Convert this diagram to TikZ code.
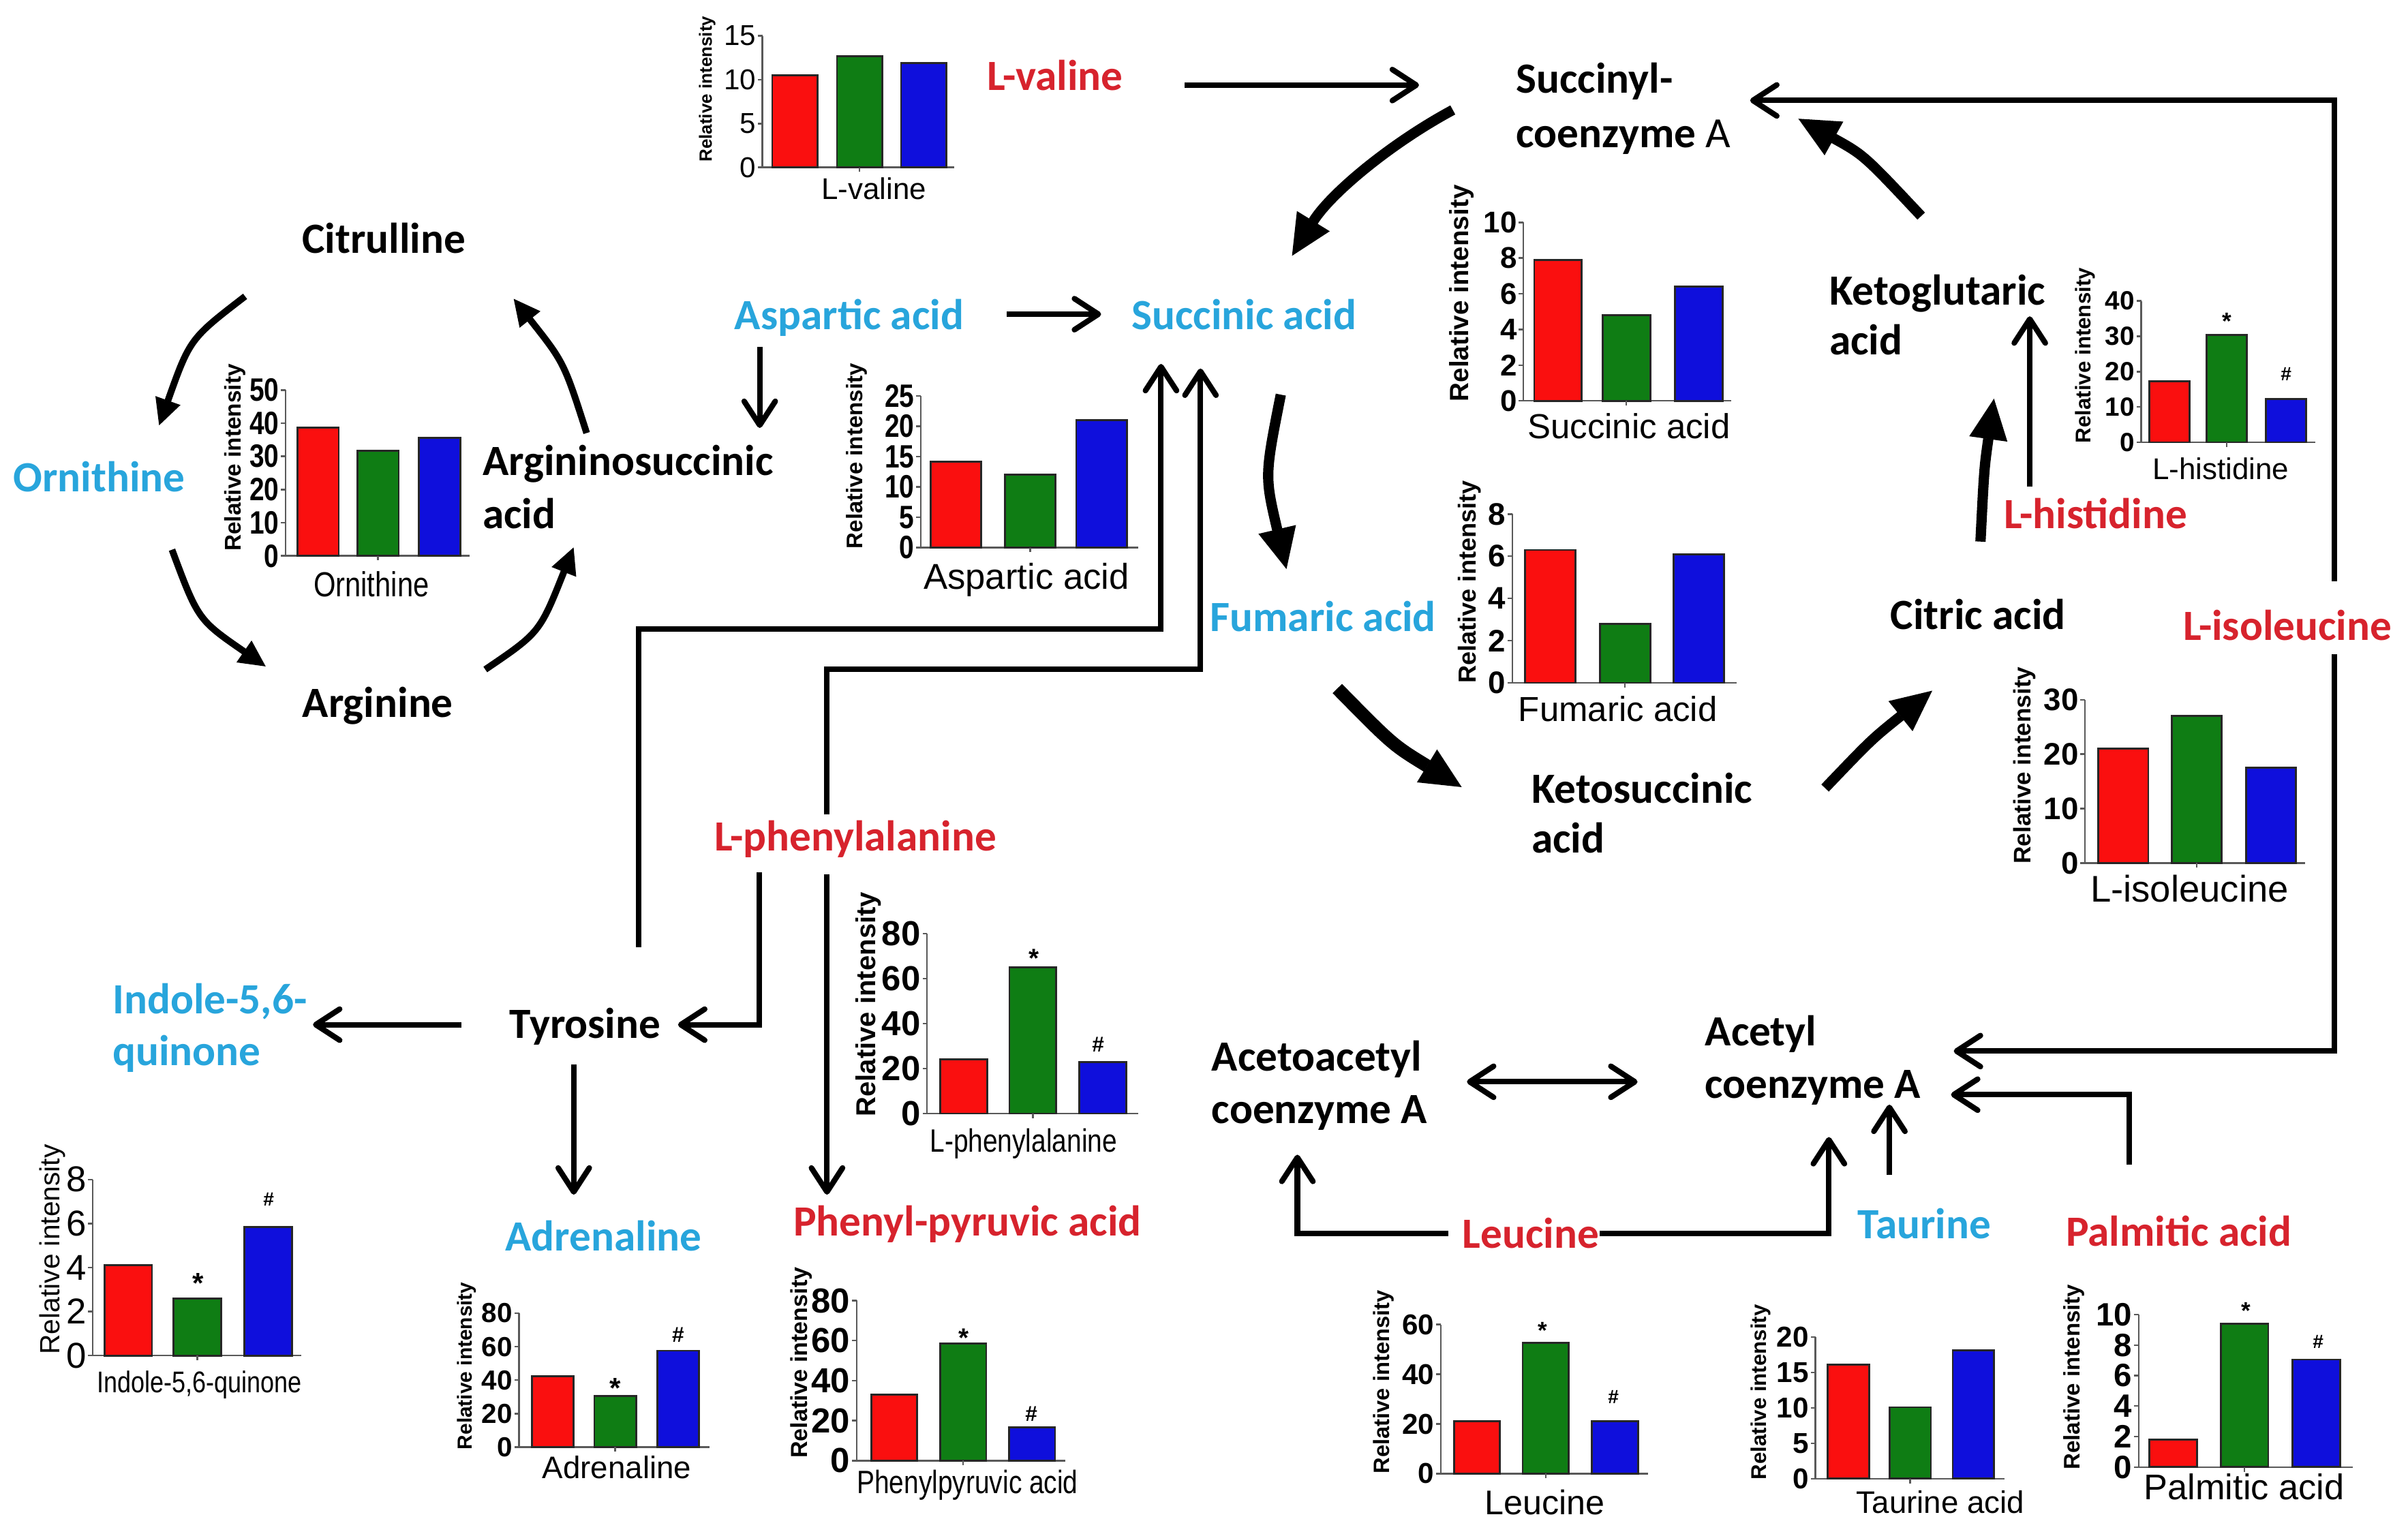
\documentclass[tikz,border=0pt]{standalone}
\usepackage{fontspec}
\setmainfont{Carlito}
\newfontfamily\arial{Liberation Sans}
\newfontfamily\arialn[FakeStretch=0.82]{Liberation Sans}
\usetikzlibrary{arrows.meta}
\definecolor{labcyan}{RGB}{40,165,220}
\definecolor{labred}{RGB}{215,35,45}
\definecolor{barred}{RGB}{250,15,15}
\definecolor{bargreen}{RGB}{15,125,20}
\definecolor{barblue}{RGB}{15,15,220}
\newcommand\AF[1]{\arial\fontsize{#1}{#1}\selectfont}
\newcommand\AFB[1]{\arial\bfseries\fontsize{#1}{#1}\selectfont}
\newcommand\AFN[1]{\arialn\fontsize{#1}{#1}\selectfont}
\newcommand\AFNB[1]{\arialn\bfseries\fontsize{#1}{#1}\selectfont}
% #1 name, #2 axis x, #3 baseline y, #4 px per unit, #5 top value, #6 ticks, #7 end x, #8 font
\newcommand\chartaxis[8]{%
  \draw[axisln] (#2,{#3-#4*#5}) -- (#2,#3) -- (#7,#3);
  \foreach \tk in {#6}{%
    \draw[axisln] (#2,{#3-#4*\tk}) -- ++(-3,0);
    \node[anchor=east, inner sep=0pt, font={#8}] (#1t\tk) at ({#2-4},{#3-#4*\tk}) {\tk};}%
}
% #1 baseline y, #2 px per unit, #3 width, #4 list left/value/colour, #5 mid tick x
\newcommand\threebars[5]{%
  \foreach \bl/\bv/\bc in {#4}{%
    \draw[barln, fill=\bc] (\bl,#1) rectangle ({\bl+#3},{#1-#2*\bv});}%
  \draw[axisln] (#5,#1) -- ++(0,3);
}
\tikzset{
  lab/.style={font=\bfseries\fontsize{18}{22}\selectfont, inner sep=0pt, anchor=base},
  labw/.style={lab, anchor=base west},
  cyanlab/.style={lab, text=labcyan},
  cyanlabw/.style={labw, text=labcyan},
  redlab/.style={lab, text=labred},
  rel/.style={rotate=90, inner sep=0pt, anchor=center},
  xl/.style={inner sep=0pt, anchor=base},
  mk/.style={inner sep=0pt, anchor=center},
  axisln/.style={line width=0.7pt, draw=black!65},
  barln/.style={line width=0.8pt, draw=black!85},
  thinln/.style={line width=2.3pt},
  thinarrow/.style={thinln, -{Straight Barb[length=10pt,width=13pt,round]}},
  thinboth/.style={thinln, {Straight Barb[length=10pt,width=13pt,round]}-{Straight Barb[length=10pt,width=13pt,round]}},
  tca/.style={line width=4.3pt, -{Triangle[length=17pt,width=16pt,line width=0.4pt]}},
  orn/.style={line width=2.8pt, -{Triangle[length=11pt,width=11pt,line width=0.4pt]}},
}
\begin{document}
\begin{tikzpicture}[x=0.022532cm,y=-0.022532cm]
\fill[white] (0,0) rectangle (1568,998.6);
\useasboundingbox (0,0) rectangle (1568,998.6);

% ---------- metabolite labels ----------
\node[redlab] (valine) at (687,59) {L-valine};
\node[labw] (succoa1) at (987,60.4) {Succinyl-};
\node[labw] (succoa2) at (987,96) {coenzyme {\mdseries A}};
\node[lab] (citrulline) at (250,165) {Citrulline};
\node[cyanlab] (ornithine) at (64.5,320) {Ornithine};
\node[labw] (argsuc1) at (314,309.5) {Argininosuccinic};
\node[labw] (argsuc2) at (314,344) {acid};
\node[lab] (arginine) at (246,467) {Arginine};
\node[cyanlab] (aspartic) at (553,214.5) {Aspartic acid};
\node[cyanlab] (succinic) at (810,214.5) {Succinic acid};
\node[cyanlab] (fumaric) at (861.5,411) {Fumaric acid};
\node[labw] (ketosuc1) at (997,523) {Ketosuccinic};
\node[labw] (ketosuc2) at (997,555.5) {acid};
\node[lab] (citric) at (1288,410) {Citric acid};
\node[labw] (ketoglu1) at (1191,198.4) {Ketoglutaric};
\node[labw] (ketoglu2) at (1191,231) {acid};
\node[redlab] (histidine) at (1364.6,344) {L-histidine};
\node[redlab] (isoleucine) at (1489.5,417) {L-isoleucine};
\node[redlab] (phenylalanine) at (557,554) {L-phenylalanine};
\node[lab] (tyrosine) at (381,676) {Tyrosine};
\node[cyanlabw] (indole1) at (73,660) {Indole-5,6-};
\node[cyanlabw] (indole2) at (73,694) {quinone};
\node[cyanlab] (adrenaline) at (393,814.7) {Adrenaline};
\node[redlab] (phenylpyr) at (630,805) {Phenyl-pyruvic acid};
\node[labw] (acetoac1) at (788.7,697.4) {Acetoacetyl};
\node[labw] (acetoac2) at (788.7,731.6) {coenzyme A};
\node[labw] (acetyl1) at (1110,681.2) {Acetyl};
\node[labw] (acetyl2) at (1110,715.4) {coenzyme A};
\node[redlab] (leucine) at (996.8,813) {Leucine};
\node[cyanlab] (taurine) at (1253,806.5) {Taurine};
\node[redlab] (palmitic) at (1418.8,811.4) {Palmitic acid};

% ---------- connector end points ----------
\coordinate (a1s) at (771.4,55.4);   \coordinate (a1e) at (924,55.4);
\coordinate (a2s) at (655.5,204.6);  \coordinate (a2e) at (717,204.6);
\coordinate (a3s) at (494.7,225.8);  \coordinate (a3e) at (494.7,278.7);
\coordinate (a4s) at (1321.7,317);   \coordinate (a4e) at (1321.7,206);
\coordinate (a5s) at (1520,378.5);   \coordinate (a5c) at (1520,65.4);   \coordinate (a5e) at (1139.6,65.4);
\coordinate (a6s) at (1520,426);     \coordinate (a6c) at (1520,684.5);  \coordinate (a6e) at (1272.2,684.5);
\coordinate (a7s) at (1386.6,758.4); \coordinate (a7c) at (1386.6,712.9); \coordinate (a7e) at (1270.4,712.9);
\coordinate (a8s) at (1230.3,765);   \coordinate (a8e) at (1230.3,719.4);
\coordinate (a9s) at (1041.8,803.4); \coordinate (a9c) at (1190.9,803.4); \coordinate (a9e) at (1190.9,740.5);
\coordinate (a10s) at (943,803.4);   \coordinate (a10c) at (844.8,803.4); \coordinate (a10e) at (844.8,752);
\coordinate (a11s) at (955.2,704.5); \coordinate (a11e) at (1066.3,704.5);
\coordinate (a12s) at (300.5,667.3); \coordinate (a12e) at (203.8,667.3);
\coordinate (a13s) at (494.3,568);   \coordinate (a13c) at (494.3,667.3); \coordinate (a13e) at (441.5,667.3);
\coordinate (a14s) at (373.6,693.3); \coordinate (a14e) at (373.6,778);
\coordinate (a15s) at (538.5,569.6); \coordinate (a15e) at (538.5,778);
\coordinate (a16s) at (416,616.8);   \coordinate (a16c) at (416,409.5);  \coordinate (a16d) at (756,409.5); \coordinate (a16e) at (756,237);
\coordinate (a17s) at (538.5,530.5); \coordinate (a17c) at (538.5,436);  \coordinate (a17d) at (781.7,436); \coordinate (a17e) at (781.7,240);

% ---------- thin connectors ----------
\draw[thinarrow] (a1s) -- (a1e);
\draw[thinarrow] (a2s) -- (a2e);
\draw[thinarrow] (a3s) -- (a3e);
\draw[thinarrow] (a4s) -- (a4e);
\draw[thinarrow] (a5s) -- (a5c) -- (a5e);
\draw[thinarrow] (a6s) -- (a6c) -- (a6e);
\draw[thinarrow] (a7s) -- (a7c) -- (a7e);
\draw[thinarrow] (a8s) -- (a8e);
\draw[thinarrow] (a9s) -- (a9c) -- (a9e);
\draw[thinarrow] (a10s) -- (a10c) -- (a10e);
\draw[thinboth] (a11s) -- (a11e);
\draw[thinarrow] (a12s) -- (a12e);
\draw[thinarrow] (a13s) -- (a13c) -- (a13e);
\draw[thinarrow] (a14s) -- (a14e);
\draw[thinarrow] (a15s) -- (a15e);
\draw[thinarrow] (a16s) -- (a16c) -- (a16d) -- (a16e);
\draw[thinarrow] (a17s) -- (a17c) -- (a17d) -- (a17e);

% ---------- TCA cycle arrows ----------
\coordinate (b1s) at (946,71.6);    \coordinate (b1e) at (841.3,166.6);
\coordinate (b2s) at (834,257);     \coordinate (b2e) at (837.7,370.6);
\coordinate (b3s) at (870.8,448.4); \coordinate (b3e) at (951.8,512.6);
\coordinate (b4s) at (1188.4,513.2); \coordinate (b4e) at (1258.2,449.8);
\coordinate (b5s) at (1289.6,352.7); \coordinate (b5e) at (1298.4,259.6);
\coordinate (b6s) at (1251,140.7);  \coordinate (b6e) at (1171,77.3);
\draw[tca] (b1s) .. controls (904.6,93.9) and (865.9,126.6) .. (b1e);
\draw[tca] (b2s) .. controls (823.5,310) .. (b2e);
\draw[tca, line width=5.5pt] (b3s) .. controls (907,485.2) .. (b3e);
\draw[tca] (b4s) .. controls (1218.7,481.5) .. (b4e);
\draw[tca] (b5s) .. controls (1292,305) .. (b5e);
\draw[tca] (b6s) .. controls (1213.7,101) .. (b6e);

% ---------- urea cycle arrows ----------
\coordinate (c1s) at (159.6,193); \coordinate (c1e) at (103.6,277);
\coordinate (c2s) at (112,358);   \coordinate (c2e) at (173,434);
\coordinate (c3s) at (316,436);   \coordinate (c3e) at (373.5,356.5);
\coordinate (c4s) at (382,282);   \coordinate (c4e) at (334.5,194.6);
\draw[orn] (c1s) .. controls (123.7,220.6) .. (c1e);
\draw[orn] (c2s) .. controls (129,403.6) .. (c2e);
\draw[orn] (c3s) .. controls (351.5,411.9) .. (c3e);
\draw[orn] (c4s) .. controls (367.3,236.1) .. (c4e);

% ---------- charts ----------
% L-valine
\chartaxis{cv}{496.5}{109}{5.71}{15}{0,5,10,15}{621.3}{\AF{12}}
\threebars{109}{5.71}{29.4}{502.8/10.5/barred,545/12.7/bargreen,586.7/11.9/barblue}{559.7}
\node[rel, font=\AFB{7.4}] (cvr) at (460.5,58) {Relative intensity};
\node[xl, font=\AF{12.5}] (cvx) at (569,130) {L-valine};

% Ornithine
\chartaxis{co}{186}{362}{2.16}{50}{0,10,...,50}{305.6}{\AFNB{13.5}}
\threebars{362}{2.16}{27}{193.6/38.6/barred,232.6/31.7/bargreen,272.7/35.6/barblue}{246}
\node[rel, font=\AFB{9.5}] (cor) at (153,298) {Relative intensity};
\node[xl, font=\AFN{14.5}] (cox) at (241.8,388.4) {Ornithine};

% Aspartic acid
\chartaxis{ca}{599.6}{356.6}{3.95}{25}{0,5,...,25}{741.2}{\AFNB{13.5}}
\threebars{356.6}{3.95}{33}{606/14.2/barred,654.4/12/bargreen,700.8/21/barblue}{670.9}
\node[rel, font=\AFB{9.4}] (car) at (558,297) {Relative intensity};
\node[xl, font=\AF{15}] (cax) at (668.4,383.6) {Aspartic acid};

% Succinic acid
\chartaxis{cs}{992}{261}{11.62}{10}{0,2,...,10}{1127.3}{\AFB{12.5}}
\threebars{261}{11.62}{31}{999/7.9/barred,1043.6/4.8/bargreen,1090.7/6.4/barblue}{1059}
\node[rel, font=\AFB{11}] (csr) at (951.7,191) {Relative intensity};
\node[xl, font=\AF{14.5}] (csx) at (1060.7,285.5) {Succinic acid};

% Fumaric acid
\chartaxis{cf}{984.8}{444.7}{13.74}{8}{0,2,...,8}{1130.8}{\AFB{13}}
\threebars{444.7}{13.74}{33}{993/6.3/barred,1041.8/2.8/bargreen,1089.7/6.1/barblue}{1058}
\node[rel, font=\AFB{10.3}] (cfr) at (957,379) {Relative intensity};
\node[xl, font=\AF{14.5}] (cfx) at (1053.5,469.8) {Fumaric acid};

% L-histidine
\chartaxis{ch}{1394.3}{288}{2.3}{40}{0,10,...,40}{1507.8}{\AFB{11}}
\threebars{288}{2.3}{26}{1399.6/17.2/barred,1437/30.4/bargreen,1475.6/12.3/barblue}{1450}
\node[rel, font=\AFB{8.9}] (chr) at (1357.7,231.5) {Relative intensity};
\node[xl, font=\AF{12.5}] (chx) at (1446,312) {L-histidine};
\node[mk, font=\AFB{10}] (chs) at (1450,209) {*};
\node[mk, font=\AFB{8}] (chh) at (1488.6,243.7) {\#};

% L-isoleucine
\chartaxis{ci}{1357.7}{562}{3.543}{30}{0,10,20,30}{1500.8}{\AFB{13}}
\threebars{562}{3.543}{32.5}{1366.4/21/barred,1414.2/27/bargreen,1462.4/17.5/barblue}{1430.5}
\node[rel, font=\AFB{10}] (cir) at (1318.2,498.4) {Relative intensity};
\node[xl, font=\AF{15.5}] (cix) at (1425.7,587.3) {L-isoleucine};

% Indole-5,6-quinone
\chartaxis{cq}{60.4}{882.8}{14.33}{8}{0,2,...,8}{196.3}{\AF{15}}
\threebars{882.8}{14.33}{31}{68/4.1/barred,113/2.6/bargreen,159/5.85/barblue}{128.5}
\node[rel, font=\AF{11.6}] (cqr) at (34,813.7) {Relative intensity};
\node[xl, font=\AFN{12.5}] (cqx) at (129.7,906.7) {Indole-5,6-quinone};
\node[mk, font=\AFB{12}] (cqs) at (129,835.7) {*};
\node[mk, font=\AFB{8}] (cqh) at (175,781.2) {\#};

% Adrenaline
\chartaxis{cd}{338}{942.4}{1.09}{80}{0,20,...,80}{462}{\AFB{11.5}}
\threebars{942.4}{1.09}{27.2}{346.4/42.4/barred,387/30.5/bargreen,428/57.6/barblue}{400.6}
\node[rel, font=\AFB{8.5}] (cdr) at (304,889.5) {Relative intensity};
\node[xl, font=\AF{13}] (cdx) at (401.7,962.7) {Adrenaline};
\node[mk, font=\AFB{12}] (cds) at (400.7,904) {*};
\node[mk, font=\AFB{9}] (cdh) at (441.5,869.2) {\#};

% L-phenylalanine
\chartaxis{cp}{603.7}{725.2}{1.465}{80}{0,20,...,80}{741.2}{\AFB{14.5}}
\threebars{725.2}{1.465}{30.5}{612.2/24/barred,657.3/65.1/bargreen,702.8/22.9/barblue}{672.5}
\node[rel, font=\AFB{11.4}] (cpr) at (565.6,654) {Relative intensity};
\node[xl, font=\AFN{13.5}] (cpx) at (666.5,750.4) {L-phenylalanine};
\node[mk, font=\AFB{11}] (cps) at (673.3,624) {*};
\node[mk, font=\AFB{9}] (cph) at (715,680.3) {\#};

% Phenylpyruvic acid
\chartaxis{cy}{557.8}{951.2}{1.3025}{80}{0,20,...,80}{693.7}{\AFB{14.5}}
\threebars{951.2}{1.3025}{30}{567.3/33/barred,612.2/58.5/bargreen,657/16.7/barblue}{627.2}
\node[rel, font=\AFB{9.7}] (cyr) at (522,887.5) {Relative intensity};
\node[xl, font=\AFN{13.5}] (cyx) at (630,972.8) {Phenylpyruvic acid};
\node[mk, font=\AFB{11}] (cys) at (627.4,871.5) {*};
\node[mk, font=\AFB{9}] (cyh) at (671.6,920.6) {\#};

% Leucine
\chartaxis{cl}{938.2}{959.7}{1.618}{60}{0,20,40,60}{1073.3}{\AFB{12}}
\threebars{959.7}{1.618}{30}{946.7/21/barred,991.5/52.6/bargreen,1036.6/21/barblue}{1006.5}
\node[rel, font=\AFB{9.3}] (clr) at (900.8,900) {Relative intensity};
\node[xl, font=\AF{14.3}] (clx) at (1006,986.2) {Leucine};
\node[mk, font=\AFB{10}] (cls) at (1004.4,866.6) {*};
\node[mk, font=\AFB{8}] (clh) at (1050.6,909.8) {\#};

% Taurine
\chartaxis{ct}{1182.1}{963}{4.61}{20}{0,5,...,20}{1305.3}{\AFB{12}}
\threebars{963}{4.61}{27}{1190.2/16.1/barred,1230.3/10.1/bargreen,1271.5/18.1/barblue}{1243.8}
\node[rel, font=\AFB{8.9}] (ctr) at (1146.5,906.6) {Relative intensity};
\node[xl, font=\AF{13}] (ctx) at (1263.5,985.5) {Taurine acid};

% Palmitic acid
\chartaxis{cm}{1392.6}{955.4}{9.93}{10}{0,2,...,10}{1532.2}{\AFB{13.5}}
\threebars{955.4}{9.93}{31}{1399.6/1.8/barred,1446/9.4/bargreen,1492.8/7.05/barblue}{1461.5}
\node[rel, font=\AFB{9.4}] (cmr) at (1350.7,896.8) {Relative intensity};
\node[xl, font=\AF{14.9}] (cmx) at (1461.3,976.8) {Palmitic acid};
\node[mk, font=\AFB{10}] (cms) at (1462.4,853.6) {*};
\node[mk, font=\AFB{8}] (cmh) at (1509.5,874) {\#};
\end{tikzpicture}
\end{document}
